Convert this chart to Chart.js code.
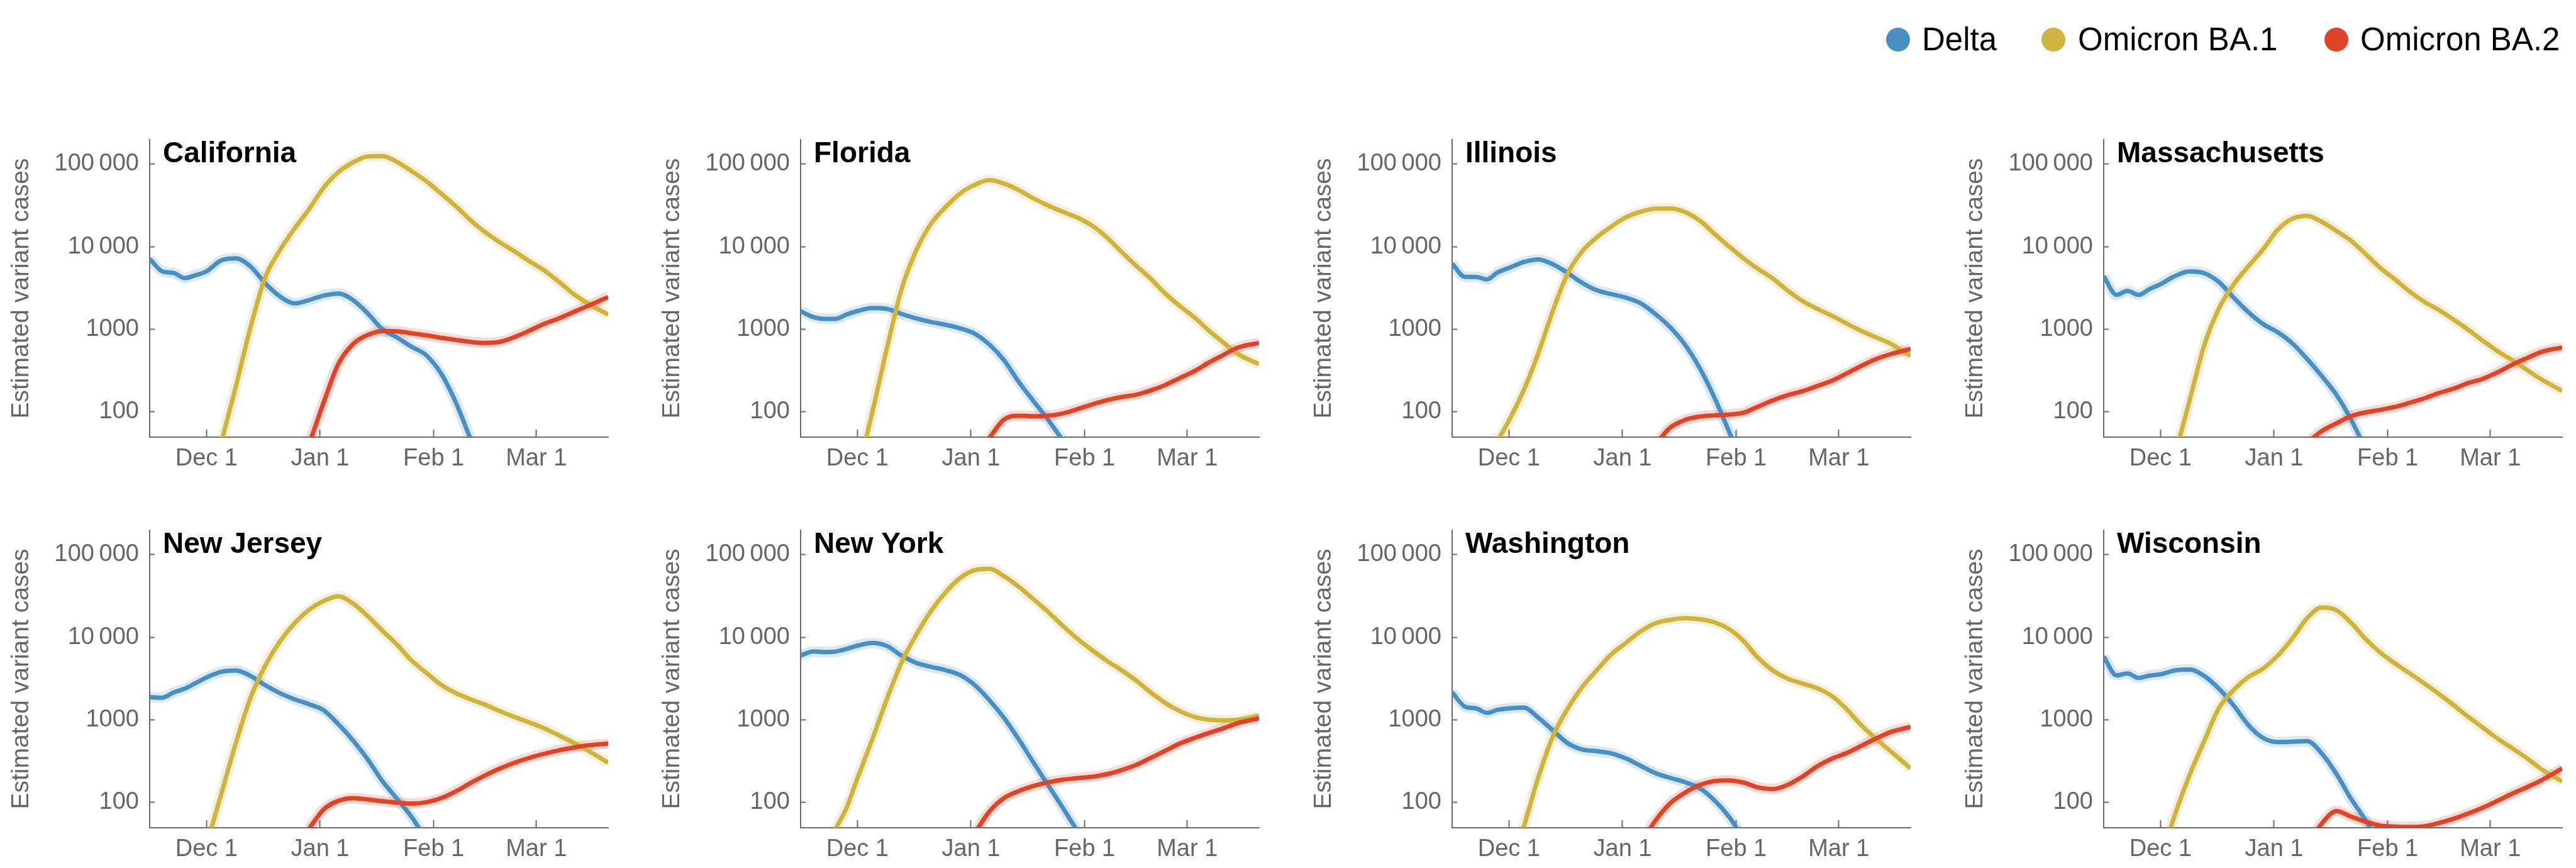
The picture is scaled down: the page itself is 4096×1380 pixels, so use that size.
<!DOCTYPE html>
<html>
<head>
<meta charset="utf-8">
<script src="https://cdn.jsdelivr.net/npm/chart.js@4.4.0/dist/chart.umd.min.js"></script>
<style>
  html, body { margin: 0; padding: 0; background: #ffffff; }
  body { width: 4096px; height: 1380px; position: relative; overflow: hidden;
         font-family: "Liberation Sans", Arial, Helvetica, sans-serif; }
  canvas.panel { position: absolute; }
  .lg-dot { position: absolute; width: 38px; height: 38px; border-radius: 50%; }
  .lg-text { position: absolute; font-size: 51px; line-height: 51px; color: #000; white-space: nowrap; }
</style>
</head>
<body>
<div id="legend"></div>
<script>
// ---------- data (x = days after Dec 1, 2021) ----------
const DAYS = [-15.5,-12,-9,-6,-3,0,4,8,12,16,20,24,28,32,36,40,44,48,52,56,60,64,68,72,76,80,84,88,92,96,100,104,109.6];
const X_TICKS = [0, 31, 62, 90];
const X_LABELS = ['Dec 1', 'Jan 1', 'Feb 1', 'Mar 1'];
const Y_TICKS = [100, 1000, 10000, 100000];
const Y_LABELS = ['100', '1000', '10\u2009000', '100\u2009000'];
const SERIES = ['Delta', 'Omicron BA.1', 'Omicron BA.2'];
const STATES = ['California', 'Florida', 'Illinois', 'Massachusetts', 'New Jersey', 'New York', 'Washington', 'Wisconsin'];
const Y_TITLE = 'Estimated variant cases';

const CA_DELTA = [7100,5000,4800,4150,4500,5000,6800,7200,5750,3600,2500,2050,2250,2550,2700,2250,1550,1000,790,610,480,290,130,47,null,null,null,null,null,null,null,null,null];
const CA_BA1 = [null,null,null,null,null,null,42,200,1050,4200,9000,16500,28500,52000,80000,105000,124000,125000,106000,82000,62000,44000,31000,21000,15000,11300,8800,6700,5200,3800,2700,2050,1500];
const CA_BA2 = [null,null,null,null,null,null,null,null,null,null,null,null,40,130,380,660,850,950,940,890,840,785,740,700,680,700,800,950,1150,1340,1600,1900,2450];

const FL_DELTA = [1650,1400,1330,1330,1500,1650,1800,1760,1530,1350,1220,1130,1020,880,650,420,230,135,80,45,null,null,null,null,null,null,null,null,null,null,null,null,null];
const FL_BA1 = [null,null,null,null,null,18,95,575,3000,8900,18700,30000,44000,56000,64000,58000,48500,38500,31500,26500,22500,18000,13000,8700,5900,4100,2700,1900,1380,950,680,495,375];
const FL_BA2 = [null,null,null,null,null,null,null,null,null,null,null,null,null,null,48,80,89,88,89,95,107,122,137,150,160,180,210,255,310,395,490,600,680];

const IL_DELTA = [6200,4300,4300,4000,4900,5500,6500,7000,6100,4800,3630,2950,2650,2400,2050,1520,1050,650,340,150,58,22,null,null,null,null,null,null,null,null,null,null,null];
const IL_BA1 = [null,null,null,null,45,78,180,510,1680,4700,8800,13000,17600,22800,26500,28800,29000,26300,20800,14400,10100,7200,5350,4100,2950,2200,1770,1460,1180,960,800,670,474];
const IL_BA2 = [null,null,null,null,null,null,null,null,null,null,null,null,null,null,null,40,64,79,87,90,92,97,115,137,158,176,203,236,288,355,430,495,575];

const MA_DELTA = [4370,2600,2900,2600,3050,3500,4400,5000,4750,3700,2400,1600,1150,915,670,435,270,160,80,35,null,null,null,null,null,null,null,null,null,null,null,null,null];
const MA_BA1 = [null,null,null,null,null,null,30,140,650,1800,3500,5800,9300,16000,21800,23600,20000,15500,11800,8100,5500,4000,2850,2140,1700,1300,980,720,540,420,320,245,178];
const MA_BA2 = [null,null,null,null,null,null,null,null,null,null,null,null,null,null,null,42,58,72,88,98,105,114,128,145,168,190,222,250,300,370,445,530,600];

const NJ_DELTA = [1880,1850,2140,2370,2770,3250,3800,3950,3400,2620,2100,1770,1540,1300,880,560,330,180,110,66,35,null,null,null,null,null,null,null,null,null,null,null,null];
const NJ_BA1 = [null,null,null,null,null,30,124,520,1830,4500,8850,14700,21500,27500,31300,25600,18000,12000,8100,5200,3700,2650,2100,1770,1520,1270,1080,930,790,650,530,425,300];
const NJ_BA2 = [null,null,null,null,null,null,null,null,null,null,null,null,48,82,104,112,108,103,99,96,100,112,135,170,211,255,300,344,385,424,458,488,516];

const NY_DELTA = [6000,6700,6600,6700,7200,7900,8500,7850,6000,4900,4380,4000,3480,2630,1730,1050,580,305,162,86,45,null,null,null,null,null,null,null,null,null,null,null,null];
const NY_BA1 = [null,null,null,47,85,195,570,1760,4900,10600,20500,34800,52000,65000,67500,55000,41000,29000,20300,13800,9600,7000,5200,4000,3000,2150,1600,1270,1080,1000,980,1000,1110];
const NY_BA2 = [null,null,null,null,null,null,null,null,null,null,null,null,null,42,77,112,136,157,174,187,196,203,218,244,283,343,420,515,600,692,790,915,1040];

const WA_DELTA = [2150,1440,1370,1210,1320,1370,1400,1060,740,520,435,415,390,338,275,225,197,175,148,106,67,36,null,null,null,null,null,null,null,null,null,null,null];
const WA_BA1 = [null,null,null,null,null,15,50,200,630,1360,2500,4000,6250,8600,11800,14800,16200,17000,16500,15200,12600,9000,5600,3950,3150,2750,2420,1950,1360,870,595,420,257];
const WA_BA2 = [null,null,null,null,null,null,null,null,null,null,null,null,null,null,32,60,97,130,161,180,184,173,151,144,162,203,270,335,392,480,585,705,818];

const WI_DELTA = [5800,3450,3630,3210,3430,3550,3960,4050,3370,2360,1480,860,600,535,540,550,390,220,110,60,30,null,null,null,null,null,null,null,null,null,null,null,null];
const WI_BA1 = [null,null,null,null,null,20,72,218,560,1400,2300,3300,4170,6000,9700,17000,22900,21200,15000,9500,6500,4800,3650,2750,2050,1500,1080,800,590,450,340,250,178];
const WI_BA2 = [null,null,null,null,null,null,null,null,null,null,null,null,null,null,null,30,55,78,67,58,52,50.5,50,51,56,63,73,86,104,127,152,185,257];

const STATE_SERIES = [
  [CA_DELTA, CA_BA1, CA_BA2], [FL_DELTA, FL_BA1, FL_BA2], [IL_DELTA, IL_BA1, IL_BA2], [MA_DELTA, MA_BA1, MA_BA2],
  [NJ_DELTA, NJ_BA1, NJ_BA2], [NY_DELTA, NY_BA1, NY_BA2], [WA_DELTA, WA_BA1, WA_BA2], [WI_DELTA, WI_BA1, WI_BA2]
];

// ---------- styling / layout ----------
const COLORS = ['#4a8fc2', '#cfb33f', '#df4428'];
const BAND_COLORS = ['rgba(74,143,194,0.20)', 'rgba(207,179,63,0.20)', 'rgba(223,68,40,0.20)'];
const FONT = '"Liberation Sans", Arial, Helvetica, sans-serif';
const GRAY = '#666666';
const AXIS = '#6a6a6a';
const COL_AXIS_X = [238, 1273, 2309, 3345];
const ROW_TOP = [222, 843];
const Y_W = 230, X_H = 60, PAD_T = 50, PAD_R = 20;
const AREA_W = 729, AREA_H = 473;

// legend (HTML)
const LEG_DOT_X = [2999, 3246, 3696];
const LEG_TEXT_X = [3056, 3304, 3753];
const legend = document.getElementById('legend');
SERIES.forEach((s, i) => {
  const d = document.createElement('div');
  d.className = 'lg-dot';
  d.style.left = LEG_DOT_X[i] + 'px';
  d.style.top = '44px';
  d.style.background = COLORS[i];
  legend.appendChild(d);
  const t = document.createElement('div');
  t.className = 'lg-text';
  t.style.left = LEG_TEXT_X[i] + 'px';
  t.style.top = '37px';
  t.textContent = s;
  legend.appendChild(t);
});

const stateTitle = {
  id: 'stateTitle',
  afterDatasetsDraw(chart, args, opts) {
    const {ctx, chartArea} = chart;
    ctx.save();
    ctx.font = 'bold 46px ' + FONT;
    ctx.fillStyle = '#000000';
    ctx.textAlign = 'left';
    ctx.textBaseline = 'alphabetic';
    ctx.fillText(opts.text, chartArea.left + 21, chartArea.top + 35.5);
    ctx.restore();
  }
};

STATES.forEach((name, si) => {
  const col = si % 4, row = Math.floor(si / 4);
  const cv = document.createElement('canvas');
  cv.className = 'panel';
  const W = Y_W + AREA_W + PAD_R, H = PAD_T + AREA_H + X_H;
  cv.width = W; cv.height = H;
  cv.style.width = W + 'px'; cv.style.height = H + 'px';
  cv.style.left = (COL_AXIS_X[col] - Y_W) + 'px';
  cv.style.top = (ROW_TOP[row] - PAD_T) + 'px';
  document.body.appendChild(cv);

  const datasets = [];
  STATE_SERIES[si].forEach((vals, i) => {
    const pts = DAYS.map((x, k) => ({x: x, y: vals[k]}));
    datasets.push({
      label: SERIES[i] + ' interval', data: pts, borderColor: BAND_COLORS[i], borderWidth: 17,
      pointRadius: 0, cubicInterpolationMode: 'monotone', fill: false, clip: 0, order: 5 - i,
      borderCapStyle: 'butt', borderJoinStyle: 'round'
    });
    datasets.push({
      label: SERIES[i], data: pts, borderColor: COLORS[i], borderWidth: 7,
      pointRadius: 0, cubicInterpolationMode: 'monotone', fill: false, clip: 0, order: 2 - i,
      borderCapStyle: 'butt', borderJoinStyle: 'round'
    });
  });

  new Chart(cv, {
    type: 'line',
    data: {datasets},
    plugins: [stateTitle],
    options: {
      responsive: false, animation: false, devicePixelRatio: 1,
      layout: {padding: {top: PAD_T, right: PAD_R, bottom: 0, left: 0}},
      plugins: {legend: {display: false}, tooltip: {enabled: false}, stateTitle: {text: name}},
      scales: {
        x: {
          type: 'linear', min: -15.5, max: 109.6,
          afterBuildTicks: s => { s.ticks = X_TICKS.map(v => ({value: v})); },
          afterFit: s => { s.height = X_H; },
          ticks: {callback: v => X_LABELS[X_TICKS.indexOf(v)], font: {family: FONT, size: 38},
                  color: GRAY, padding: 24, maxRotation: 0, autoSkip: false},
          grid: {display: true, drawOnChartArea: false, drawTicks: true, tickLength: -12,
                 tickWidth: 2, tickColor: AXIS, color: AXIS},
          border: {display: true, color: AXIS, width: 2}
        },
        y: {
          type: 'logarithmic', min: 49, max: 198000,
          afterBuildTicks: s => { s.ticks = Y_TICKS.map(v => ({value: v})); },
          afterFit: s => { s.width = Y_W; },
          ticks: {callback: v => Y_LABELS[Y_TICKS.indexOf(v)], font: {family: FONT, size: 38},
                  color: GRAY, padding: 25, autoSkip: false},
          grid: {display: true, drawOnChartArea: false, drawTicks: true, tickLength: -8,
                 tickWidth: 2, tickColor: AXIS, color: AXIS},
          border: {display: true, color: AXIS, width: 2},
          title: {display: true, text: Y_TITLE, font: {family: FONT, size: 39}, color: GRAY,
                  padding: {top: 3, bottom: 0}}
        }
      }
    }
  });
});
</script>
</body>
</html>
